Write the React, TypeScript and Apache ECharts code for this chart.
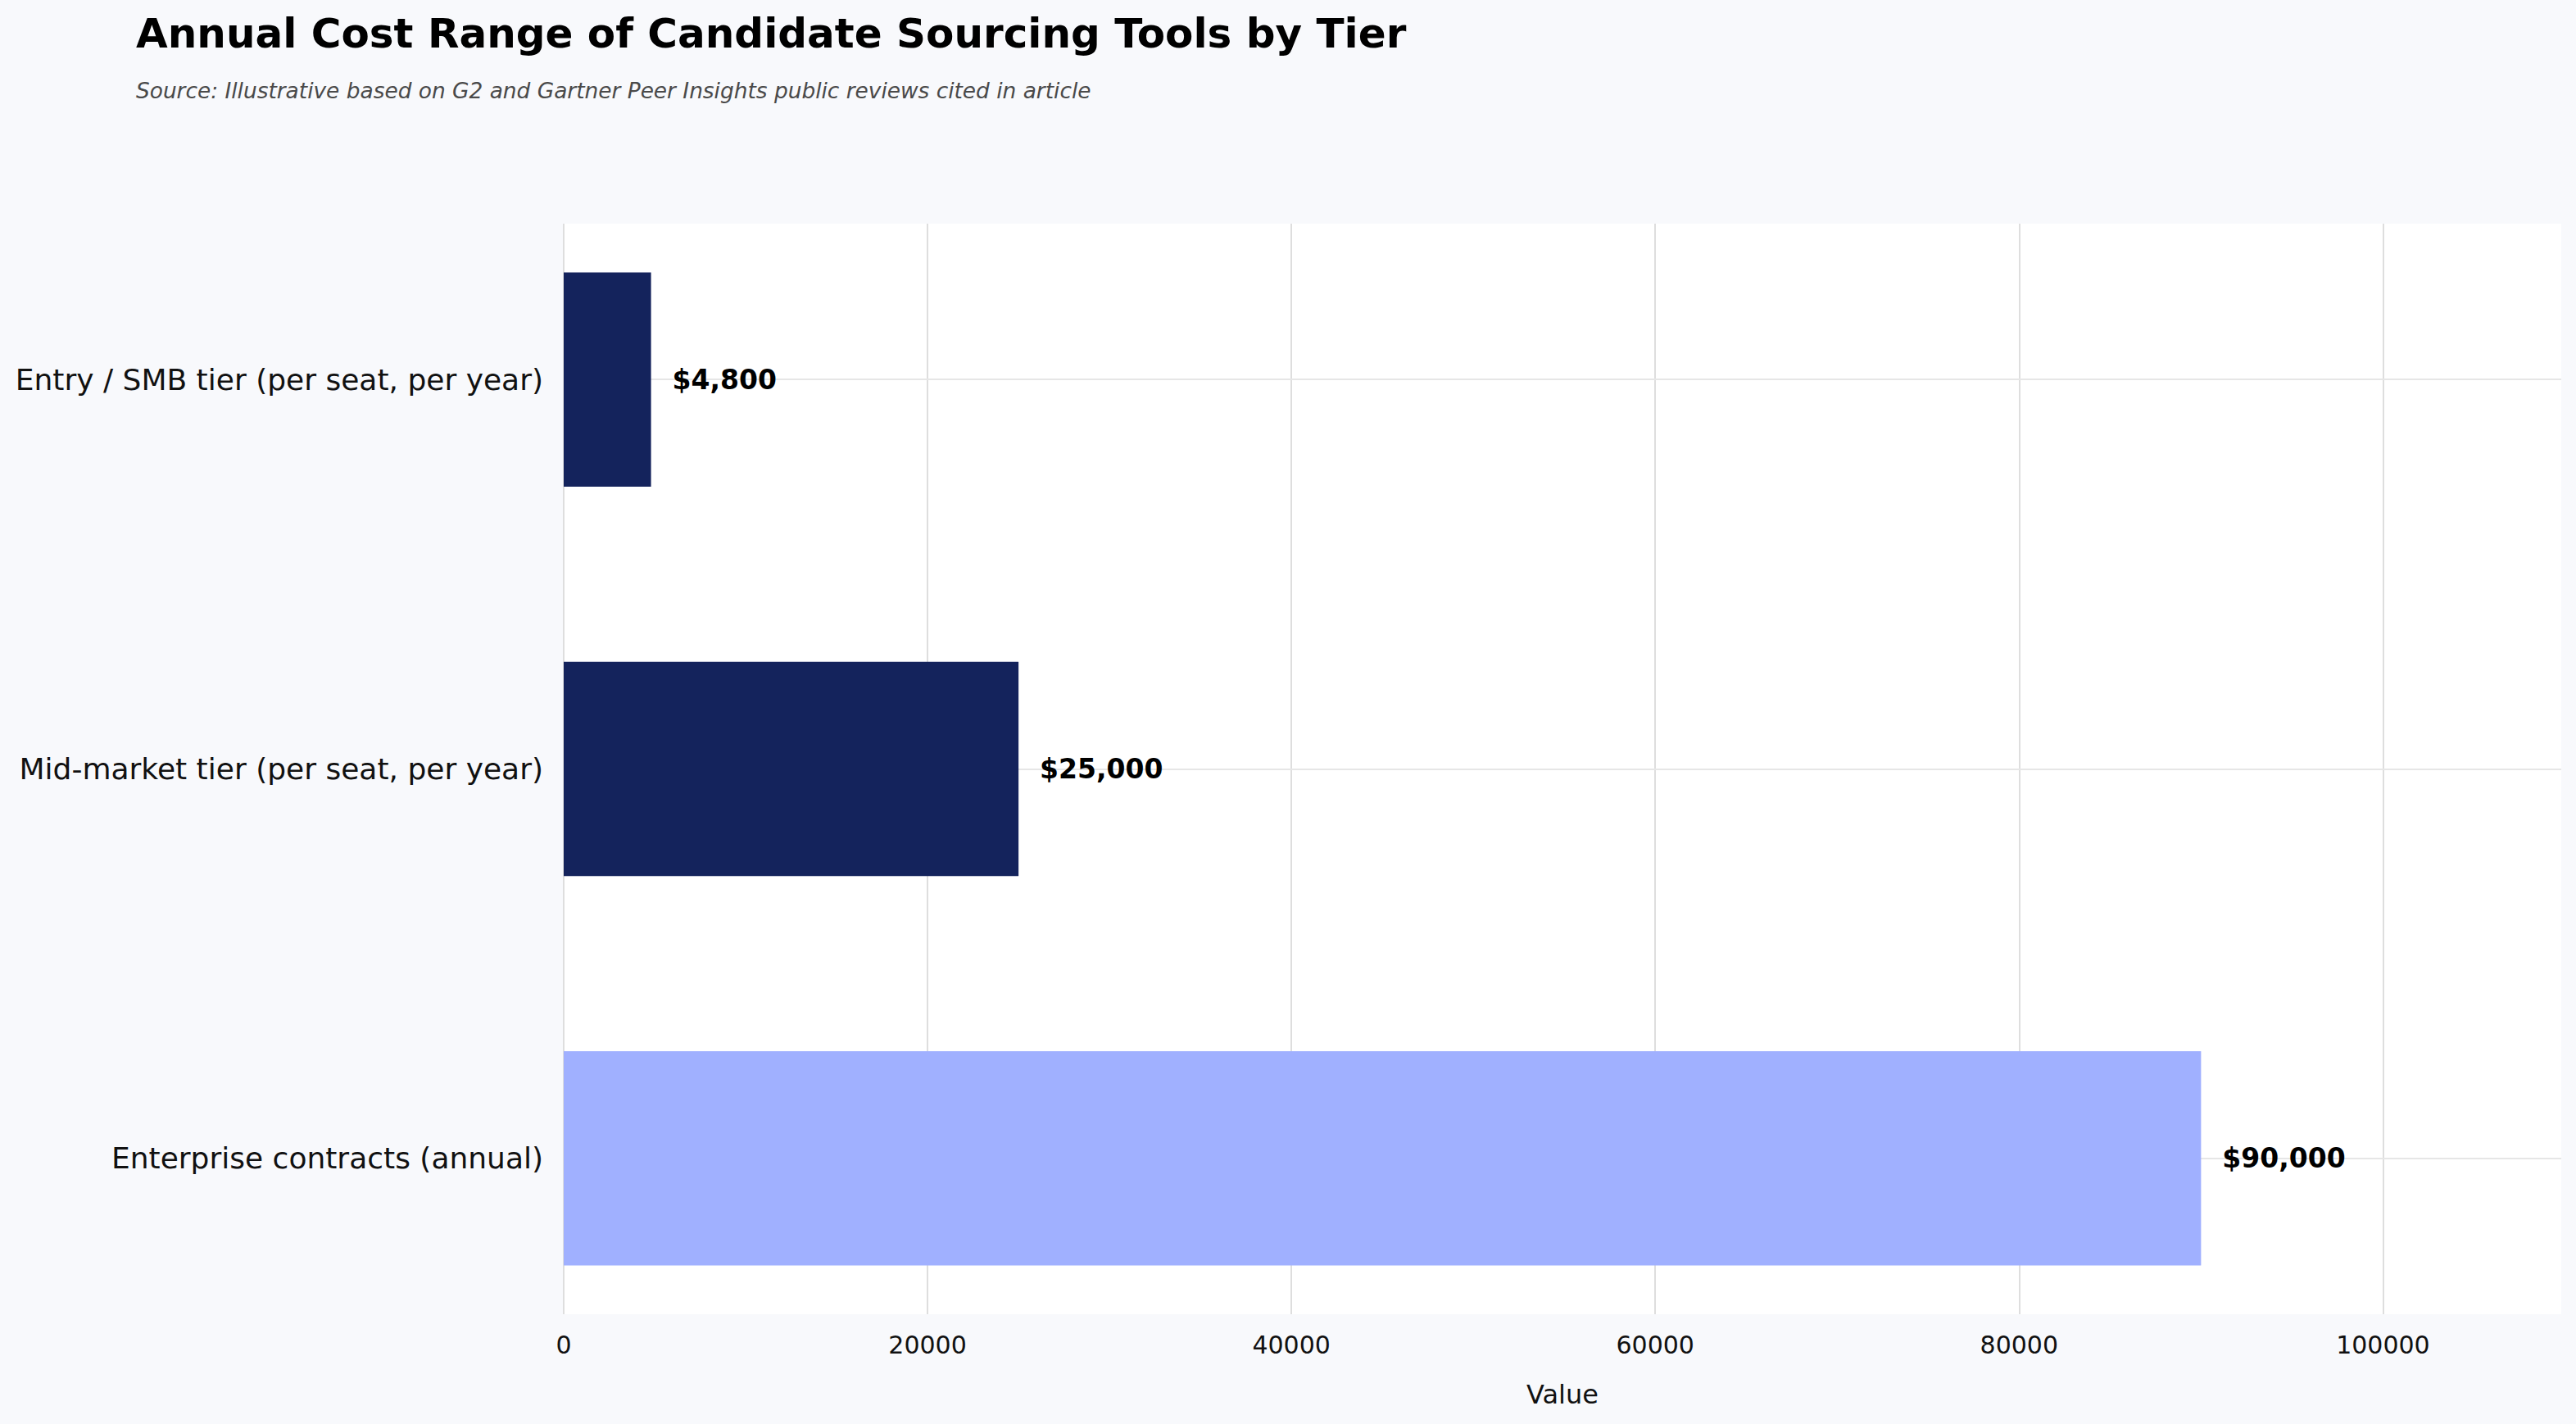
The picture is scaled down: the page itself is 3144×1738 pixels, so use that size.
import * as echarts from 'echarts'
import { useEffect, useRef } from 'react'

const categories = [
  'Entry / SMB tier (per seat, per year)',
  'Mid-market tier (per seat, per year)',
  'Enterprise contracts (annual)',
]
const costs = [4800, 25000, 90000]
const barColors = ['#14235C', '#14235C', '#A0B0FF']
const xTicks = { min: 0, max: 109800, interval: 20000 }

const FONT = 'DejaVu Sans'

export default function App() {
  const ref = useRef<HTMLDivElement | null>(null)

  useEffect(() => {
    document.body.style.margin = '0'
    if (!ref.current) return
    const chart = echarts.init(ref.current, undefined, { renderer: 'svg' })

    chart.setOption({
      animation: false,
      backgroundColor: '#F8F9FC',
      textStyle: { fontFamily: FONT },
      title: [
        {
          text: 'Annual Cost Range of Candidate Sourcing Tools by Tier',
          left: 161,
          top: 11,
          textStyle: { fontFamily: FONT, fontSize: 50, fontWeight: 'bold', color: '#000' },
        },
        {
          text: 'Source: Illustrative based on G2 and Gartner Peer Insights public reviews cited in article',
          left: 161,
          top: 92,
          textStyle: { fontFamily: FONT, fontSize: 26.4, fontStyle: 'italic', fontWeight: 'normal', color: '#4a4a4a' },
        },
      ],
      grid: [
        // visible plot frame
        {
          left: 688, right: 18, top: 273, bottom: 134,
          show: true, backgroundColor: '#ffffff', borderWidth: 0,
          outerBoundsMode: 'none', containLabel: false,
        },
        // bar layout (categories at -0.4..2.4 in the frame)
        { left: 688, right: 18, top: 225.5, bottom: 86.5, outerBoundsMode: 'none', containLabel: false },
      ],
      xAxis: [
        {
          gridIndex: 0,
          type: 'value',
          ...xTicks,
          name: 'Value',
          nameLocation: 'middle',
          nameGap: 82,
          nameTextStyle: { fontFamily: FONT, fontSize: 32, color: '#111' },
          axisLine: { show: false },
          axisTick: { show: false },
          axisLabel: {
            fontFamily: FONT, fontSize: 30, color: '#111', margin: 22,
            showMaxLabel: false,
            formatter: (v: number) => (v >= xTicks.max ? '' : String(v)),
          },
          splitLine: { lineStyle: { color: '#dedede', width: 2 }, showMaxLine: false },
        },
        {
          gridIndex: 1,
          type: 'value',
          ...xTicks,
          show: false,
          splitLine: { show: false },
        },
      ],
      yAxis: [
        { gridIndex: 0, type: 'value', show: false, splitLine: { show: false } },
        {
          gridIndex: 1,
          type: 'category',
          data: categories,
          inverse: true,
          axisLine: { show: false },
          axisTick: { show: false },
          splitLine: { show: false },
          axisLabel: { fontFamily: FONT, fontSize: 36, color: '#111', margin: 25 },
        },
      ],
      series: [
        {
          type: 'line',
          xAxisIndex: 1,
          yAxisIndex: 1,
          data: [],
          z: 1,
          markLine: {
            silent: true,
            symbol: 'none',
            z: 1,
            label: { show: false },
            lineStyle: { color: '#e6e6e6', width: 2, type: 'solid' },
            data: categories.map((c) => ({ yAxis: c })),
          },
        },
        {
          type: 'bar',
          xAxisIndex: 1,
          yAxisIndex: 1,
          z: 3,
          barWidth: '55%',
          data: costs.map((v, i) => ({ value: v, itemStyle: { color: barColors[i] } })),
          label: {
            show: true,
            position: 'right',
            distance: 26,
            fontFamily: FONT,
            fontSize: 33,
            fontWeight: 'bold',
            color: '#000',
            formatter: (p: { value: number }) => '$' + p.value.toLocaleString('en-US'),
          },
        },
      ],
    })

    return () => {
      chart.dispose()
    }
  }, [])

  return <div ref={ref} style={{ width: 3144, height: 1738 }} />
}
